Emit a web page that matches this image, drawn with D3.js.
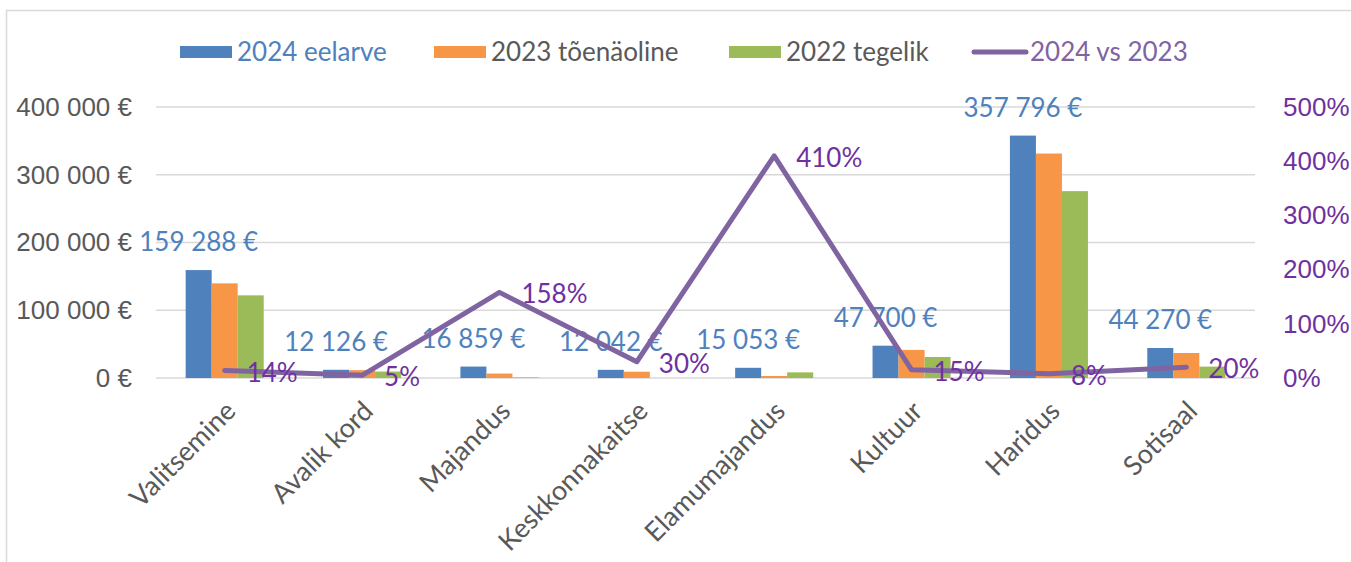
<!DOCTYPE html>
<html>
<head>
<meta charset="utf-8">
<script src="https://cdn.jsdelivr.net/npm/d3@7"></script>
<style>
  body { margin: 0; background: #fff; }
  svg { display: block; font-family: Lato, "Liberation Sans", sans-serif; }
</style>
</head>
<body>
<div id="chart"></div>
<script>
// data
const categories = ["Valitsemine", "Avalik kord", "Majandus", "Keskkonnakaitse", "Elamumajandus", "Kultuur", "Haridus", "Sotisaal"];
const seriesNames = ["2024 eelarve", "2023 tõenäoline", "2022 tegelik"];
const budget2024 = [159288, 12126, 16859, 12042, 15053, 47700, 357796, 44270];
const likely2023 = [139700, 11550, 6530, 9260, 2950, 41480, 331300, 36900];
const actual2022 = [122000, 9500, 900, 0, 8300, 31000, 275800, 16800];
const change2024vs2023 = [0.14, 0.05, 1.58, 0.30, 4.10, 0.15, 0.08, 0.20];
const leftTicks = [0, 100000, 200000, 300000, 400000];
const rightTicks = [0, 1, 2, 3, 4, 5];
const lineName = "2024 vs 2023";

const W = 1351, H = 562;
const colors = ["#4F81BD", "#F79646", "#9BBB59"];
const lineColor = "#8064A2";
const pctColor = "#7030A0";
const axisText = "#595959";
const fs = "26px";

const margin = {top: 107, right: 96, bottom: 184, left: 156};
const innerW = W - margin.left - margin.right;
const innerH = H - margin.top - margin.bottom;

const svg = d3.select("#chart").append("svg")
    .attr("width", W)
    .attr("height", H);

// chart frame
svg.append("rect")
    .attr("x", 6.5).attr("y", 10.5)
    .attr("width", W + 20).attr("height", H + 20)
    .attr("fill", "none")
    .attr("stroke", "#D9D9D9")
    .attr("stroke-width", 1.5);

const g = svg.append("g")
    .attr("transform", `translate(${margin.left},${margin.top})`);

const x0 = d3.scaleBand().domain(categories).range([0, innerW]);
const groupW = x0.bandwidth() / 1.76;
const x1 = d3.scaleBand().domain(seriesNames).range([0, groupW]);
const y = d3.scaleLinear().domain([0, 400000]).range([innerH, 0]);
const y2 = d3.scaleLinear().domain([0, 5]).range([innerH, 0]);

const fmtEur = v => d3.format(",")(v).replace(/,/g, " ") + " €";

// gridlines
g.append("g").selectAll("line")
    .data(leftTicks)
    .join("line")
    .attr("x1", 0).attr("x2", innerW)
    .attr("y1", d => y(d)).attr("y2", d => y(d))
    .attr("stroke", "#D9D9D9")
    .attr("stroke-width", 1.5);

// left axis
const yAxis = d3.axisLeft(y).tickValues(leftTicks).tickSize(0).tickPadding(24).tickFormat(fmtEur);
g.append("g").call(yAxis)
    .call(a => a.select(".domain").remove())
    .selectAll("text")
    .attr("fill", axisText)
    .style("font-size", fs);

// right axis
const y2Axis = d3.axisRight(y2).tickValues(rightTicks).tickSize(0).tickPadding(28).tickFormat(d3.format(".0%"));
g.append("g").attr("transform", `translate(${innerW},0)`).call(y2Axis)
    .call(a => a.select(".domain").remove())
    .selectAll("text")
    .attr("fill", pctColor)
    .style("font-size", fs);

// bars
const seriesData = [budget2024, likely2023, actual2022];
const groups = g.append("g").selectAll("g")
    .data(categories)
    .join("g")
    .attr("transform", d => `translate(${x0(d) + (x0.bandwidth() - groupW) / 2},0)`);

groups.selectAll("rect")
    .data((c, i) => seriesNames.map((s, k) => ({s: s, k: k, v: seriesData[k][i]})))
    .join("rect")
    .attr("x", d => x1(d.s))
    .attr("width", x1.bandwidth())
    .attr("y", d => y(d.v))
    .attr("height", d => innerH - y(d.v))
    .attr("fill", d => colors[d.k]);

// category labels
g.append("g").selectAll("text")
    .data(categories)
    .join("text")
    .attr("transform", d => `translate(${x0(d) + x0.bandwidth() / 2 + 6},${innerH + 28}) rotate(-45)`)
    .attr("text-anchor", "end")
    .attr("dy", "0.35em")
    .attr("fill", axisText)
    .style("font-size", "27px")
    .text(d => d);

// line
const line = d3.line()
    .x((d, i) => x0(categories[i]) + x0.bandwidth() / 2)
    .y(d => y2(d));

g.append("path")
    .datum(change2024vs2023)
    .attr("d", line)
    .attr("fill", "none")
    .attr("stroke", lineColor)
    .attr("stroke-width", 5)
    .attr("stroke-linejoin", "round")
    .attr("stroke-linecap", "round");

// blue value labels
groups.append("text")
    .attr("x", (c) => x1(seriesNames[0]) + x1.bandwidth() / 2)
    .attr("y", (c, i) => y(budget2024[i]) - 28)
    .attr("dy", "0.35em")
    .attr("text-anchor", "middle")
    .attr("fill", colors[0])
    .style("font-size", fs)
    .text((c, i) => fmtEur(budget2024[i]));

// percentage labels
g.append("g").selectAll("text")
    .data(change2024vs2023)
    .join("text")
    .attr("x", (d, i) => x0(categories[i]) + x0.bandwidth() / 2 + 22)
    .attr("y", d => y2(d) + 2)
    .attr("dy", "0.35em")
    .attr("fill", pctColor)
    .style("font-size", fs)
    .text(d => d3.format(".0%")(d));

// legend
const legendItems = [
    {name: seriesNames[0], type: "rect", color: colors[0], text: colors[0], x: 180},
    {name: seriesNames[1], type: "rect", color: colors[1], text: axisText, x: 434},
    {name: seriesNames[2], type: "rect", color: colors[2], text: axisText, x: 729},
    {name: lineName, type: "line", color: lineColor, text: lineColor, x: 972}
];
const legend = svg.append("g").selectAll("g")
    .data(legendItems)
    .join("g")
    .attr("transform", d => `translate(${d.x},52)`);

legend.filter(d => d.type === "rect").append("rect")
    .attr("x", 0).attr("y", -6)
    .attr("width", 52).attr("height", 12)
    .attr("fill", d => d.color);

legend.filter(d => d.type === "line").append("line")
    .attr("x1", 2).attr("x2", 54)
    .attr("stroke", d => d.color)
    .attr("stroke-width", 5)
    .attr("stroke-linecap", "round");

legend.append("text")
    .attr("x", d => d.type === "line" ? 58 : 57)
    .attr("dy", "0.35em")
    .attr("fill", d => d.text)
    .style("font-size", fs)
    .text(d => d.name);
</script>
</body>
</html>
